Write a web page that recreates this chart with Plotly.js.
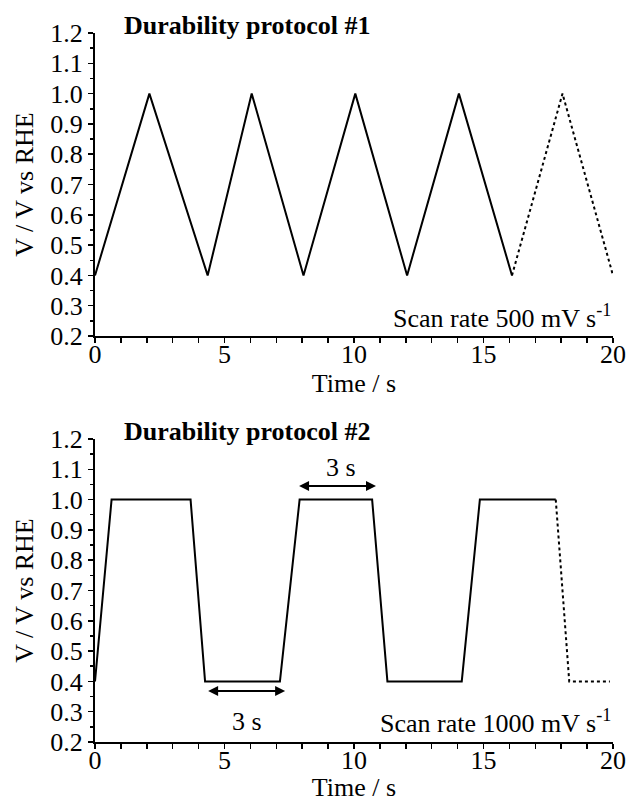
<!DOCTYPE html>
<html>
<head>
<meta charset="utf-8">
<script src="https://cdn.plot.ly/plotly-3.0.1.min.js"></script>
<style>html,body{margin:0;padding:0;background:#fff;}#chart{width:627px;height:802px;}</style>
</head>
<body>
<div id="chart"></div>
<script>
// Protocol #1 (triangular sweep)
const p1SolidTime = [0, 2.1, 4.35, 6.05, 8.05, 10.05, 12.05, 14.05, 16.1];
const p1SolidVolt = [0.4, 1.0, 0.4, 1.0, 0.4, 1.0, 0.4, 1.0, 0.4];
const p1DotTime = [16.1, 18.05, 20];
const p1DotVolt = [0.4, 1.0, 0.4];

// Protocol #2 (square wave with ramps)
const p2SolidTime = [0, 0.64, 3.69, 4.25, 7.14, 7.9, 10.7, 11.29, 14.16, 14.86, 17.79];
const p2SolidVolt = [0.4, 1.0, 1.0, 0.4, 0.4, 1.0, 1.0, 0.4, 0.4, 1.0, 1.0];
const p2DotTime = [17.79, 18.31, 19.88];
const p2DotVolt = [1.0, 0.4, 0.4];

// Hold-time arrows and labels
const holdHighArrow = [7.82, 10.85];
const holdHighY = 1.045;
const holdHighLabel = [9.5, 1.107];
const holdLowArrow = [4.31, 7.34];
const holdLowY = 0.368;
const holdLowLabel = [5.88, 0.268];
const holdText = '3 s';

const titles = ['Durability protocol #1', 'Durability protocol #2'];
const scanRates = ['Scan rate 500 mV s<sup>-1</sup>', 'Scan rate 1000 mV s<sup>-1</sup>'];
const xRange = [0, 20];
const yRange = [0.2, 1.2];
const xTitle = 'Time / s';
const yTitle = 'V / V vs RHE';

const FONT = 'Liberation Serif, Times New Roman, serif';
const lineStyle = {color: '#000', width: 2};
const dotStyle = {color: '#000', width: 2, dash: 'dot'};

const traces = [
  {x: p1SolidTime, y: p1SolidVolt, xaxis: 'x', yaxis: 'y', mode: 'lines', line: lineStyle, hoverinfo: 'skip'},
  {x: p1DotTime, y: p1DotVolt, xaxis: 'x', yaxis: 'y', mode: 'lines', line: dotStyle, hoverinfo: 'skip'},
  {x: p2SolidTime, y: p2SolidVolt, xaxis: 'x2', yaxis: 'y2', mode: 'lines', line: lineStyle, hoverinfo: 'skip'},
  {x: p2DotTime, y: p2DotVolt, xaxis: 'x2', yaxis: 'y2', mode: 'lines', line: dotStyle, hoverinfo: 'skip'}
];

function xAxis(anchor) {
  return {
    anchor: anchor, range: xRange, domain: [0, 1],
    showline: true, linecolor: '#000', linewidth: 2, showgrid: false, zeroline: false,
    ticks: 'outside', ticklen: 5, tickwidth: 1.5, tickcolor: '#000', dtick: 5, tick0: 0,
    ticklabelstandoff: -11,
    minor: {dtick: 1, ticks: 'outside', ticklen: 5, tickwidth: 1.5, tickcolor: '#000', showgrid: false},
    tickfont: {family: FONT, size: 26, color: '#000'},
    title: {text: xTitle, font: {family: FONT, size: 26, color: '#000'}, standoff: 0}
  };
}
function yAxis(anchor, domain) {
  return {
    anchor: anchor, range: yRange, domain: domain,
    showline: true, linecolor: '#000', linewidth: 2, showgrid: false, zeroline: false,
    ticks: 'outside', ticklen: 5, tickwidth: 1.5, tickcolor: '#000', dtick: 0.1, tick0: 0.2,
    tickformat: '.1f',
    minor: {dtick: 0.05, ticks: 'outside', ticklen: 3, tickwidth: 1.5, tickcolor: '#000', showgrid: false},
    tickfont: {family: FONT, size: 26, color: '#000'},
    title: {text: yTitle, font: {family: FONT, size: 26, color: '#000'}, standoff: 9}
  };
}

const annFont = {family: FONT, size: 26, color: '#000'};
const annotations = [
  {xref: 'x', yref: 'y domain', x: 1.04, y: 1.026, text: '<b>' + titles[0] + '</b>', showarrow: false, xanchor: 'left', yanchor: 'middle', font: annFont},
  {xref: 'x2', yref: 'y2 domain', x: 1.04, y: 1.026, text: '<b>' + titles[1] + '</b>', showarrow: false, xanchor: 'left', yanchor: 'middle', font: annFont},
  {xref: 'x', yref: 'y', x: xRange[1], y: 0.266, text: scanRates[0], showarrow: false, xanchor: 'right', yanchor: 'middle', font: annFont},
  {xref: 'x2', yref: 'y2', x: xRange[1], y: 0.268, text: scanRates[1], showarrow: false, xanchor: 'right', yanchor: 'middle', font: annFont},
  {xref: 'x2', yref: 'y2', axref: 'x2', ayref: 'y2', x: holdHighArrow[1], y: holdHighY, ax: holdHighArrow[0], ay: holdHighY,
   text: '', showarrow: true, arrowhead: 2, arrowside: 'end+start', arrowsize: 1, arrowwidth: 2, arrowcolor: '#000', standoff: 0, startstandoff: 0},
  {xref: 'x2', yref: 'y2', axref: 'x2', ayref: 'y2', x: holdLowArrow[1], y: holdLowY, ax: holdLowArrow[0], ay: holdLowY,
   text: '', showarrow: true, arrowhead: 2, arrowside: 'end+start', arrowsize: 1, arrowwidth: 2, arrowcolor: '#000', standoff: 0, startstandoff: 0},
  {xref: 'x2', yref: 'y2', x: holdHighLabel[0], y: holdHighLabel[1], text: holdText, showarrow: false, font: annFont},
  {xref: 'x2', yref: 'y2', x: holdLowLabel[0], y: holdLowLabel[1], text: holdText, showarrow: false, font: annFont}
];

const layout = {
  width: 627, height: 802,
  margin: {l: 95, r: 14, t: 33, b: 60},
  paper_bgcolor: '#fff', plot_bgcolor: '#fff',
  showlegend: false,
  font: {family: FONT, color: '#000'},
  xaxis: xAxis('y'),
  yaxis: yAxis('x', [0.5726, 1]),
  xaxis2: xAxis('y2'),
  yaxis2: yAxis('x2', [0, 0.4274]),
  annotations: annotations
};

Plotly.newPlot('chart', traces, layout, {staticPlot: true, displayModeBar: false});
</script>
</body>
</html>
